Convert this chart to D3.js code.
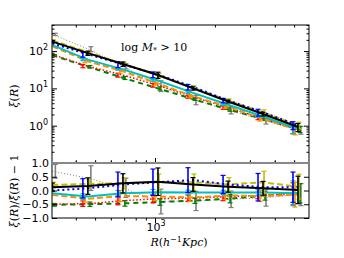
<!DOCTYPE html>
<html>
<head>
<meta charset="utf-8">
<script src="https://cdn.jsdelivr.net/npm/d3@7"></script>
<style>
  body { margin: 0; background: #fff; }
  .tick text { font-family: "DejaVu Sans", sans-serif; font-size: 11px; fill: #000; }
  .math { font-family: "DejaVu Serif", "Liberation Serif", serif; fill: #000; }
</style>
</head>
<body>
<div id="chart"></div>
<script>
// radial bins (h^-1 Kpc)
var R = [305, 460, 690, 1035, 1552, 2329, 3490, 5230];
// mean correlation function over the samples
var meanXi = [160, 76, 36, 17.3, 8.2, 3.9, 1.9, 0.9];

// xi(R) per sample
var xiBlack  = [179, 88, 45, 22.8, 10.0, 4.45, 2.05, 0.92];
var xiBlue   = [160, 82, 44, 23.5, 10.9, 4.76, 2.28, 1.03];
var xiYellow = [192, 94, 45, 22.5, 10.5, 4.76, 2.28, 1.03];
var xiCyan   = [144, 59, 32.4, 16.3, 7.6, 3.63, 1.77, 0.81];
var xiOrange = [134, 53, 28.8, 13.5, 6.15, 3.2, 1.52, 0.77];
var xiRed    = [80, 39.5, 22.7, 12.1, 5.9, 3.04, 1.56, 0.79];
var xiGreen  = [77, 38, 19.1, 10.0, 5.17, 2.73, 1.52, 0.81];
var xiGray   = [280, 114, 39.6, 12.1, 5.08, 2.65, 1.39, 0.77];

// xi / mean - 1 per sample
var rBlack  = [0.12, 0.16, 0.26, 0.32, 0.22, 0.14, 0.08, 0.02];
var rBlue   = [0.00, 0.08, 0.22, 0.30, 0.38, 0.22, 0.12, 0.12];
var rYellow = [0.20, 0.24, 0.26, 0.30, 0.30, 0.22, 0.30, 0.14];
var rCyan   = [-0.10, -0.22, -0.10, -0.06, -0.07, -0.07, -0.07, -0.10];
var rOrange = [-0.16, -0.30, -0.20, -0.22, -0.25, -0.18, -0.20, -0.15];
var rRed    = [-0.50, -0.48, -0.37, -0.30, -0.28, -0.22, -0.18, -0.12];
var rGreen  = [-0.52, -0.50, -0.47, -0.42, -0.37, -0.30, -0.20, -0.10];
var rGray   = [0.70, 0.45, 0.10, -0.40, -0.38, -0.32, -0.27, -0.15];

// 1-sigma errors on the ratio
var eBlack  = [0.15, 0.30, 0.35, 0.50, 0.25, 0.20, 0.25, 0.50];
var eBlue   = [0.12, 0.35, 0.45, 0.48, 0.45, 0.33, 0.50, 0.55];
var eYellow = [0.10, 0.15, 0.20, 0.30, 0.30, 0.25, 0.40, 0.45];
var eCyan   = [0.05, 0.10, 0.10, 0.10, 0.08, 0.08, 0.10, 0.45];
var eOrange = [0.05, 0.12, 0.20, 0.15, 0.15, 0.15, 0.20, 0.45];
var eRed    = [0.10, 0.10, 0.15, 0.15, 0.12, 0.15, 0.12, 0.40];
var eGreen  = [0.05, 0.08, 0.10, 0.12, 0.10, 0.15, 0.15, 0.35];
var eGray   = [0.25, 0.45, 0.35, 0.45, 0.35, 0.30, 0.30, 0.40];

var xTicksMinor = [400, 500, 600, 700, 800, 900, 2000, 3000, 4000, 5000];
var yTicksMain = [1, 10, 100];
var ratioTicks = [-1, -0.5, 0, 0.5, 1];
var ratioLabels = ["\u22121.0", "\u22120.5", "0.0", "0.5", "1.0"];

var series = [
  {xi: xiGray,   r: rGray,   e: eGray,   color: "#808080", w: 1,   dash: "1,2",  dx: 3},
  {xi: xiGreen,  r: rGreen,  e: eGreen,  color: "#008000", w: 2,   dash: "5,4",  dx: 2},
  {xi: xiRed,    r: rRed,    e: eRed,    color: "#ff0000", w: 1.5, dash: "1.5,2", dx: -5},
  {xi: xiOrange, r: rOrange, e: eOrange, color: "#ff8c00", w: 2,   dash: "6,3",  dx: -3},
  {xi: xiCyan,   r: rCyan,   e: eCyan,   color: "#00bfbf", w: 2,   dash: null,   dx: -5},
  {xi: xiYellow, r: rYellow, e: eYellow, color: "#bfbf00", w: 2,   dash: "6,3",  dx: 1},
  {xi: xiBlue,   r: rBlue,   e: eBlue,   color: "#0000ff", w: 2,   dash: "2,3",  dx: -5},
  {xi: xiBlack,  r: rBlack,  e: eBlack,  color: "#000000", w: 2,   dash: null,   dx: 0}
];

var svg = d3.select("#chart").append("svg")
  .attr("width", 344).attr("height", 258);

var pane = {left: 52, right: 309, top: 25, mid: 163, bottom: 218};
var mainErrScale = 0.5;

var x = d3.scaleLog().domain([303.7, 5941]).range([pane.left, pane.right]);
var y = d3.scaleLog().domain([0.1, 500]).range([pane.mid, pane.top]);
var yr = d3.scaleLinear().domain([-1, 1]).range([pane.bottom, pane.mid]);

var defs = svg.append("defs");
defs.append("clipPath").attr("id", "clipMain").append("rect")
  .attr("x", pane.left).attr("y", pane.top)
  .attr("width", pane.right - pane.left).attr("height", pane.mid - pane.top);
defs.append("clipPath").attr("id", "clipLow").append("rect")
  .attr("x", pane.left).attr("y", pane.mid)
  .attr("width", pane.right - pane.left).attr("height", pane.bottom - pane.mid);

var gMain = svg.append("g").attr("clip-path", "url(#clipMain)");
var gLow = svg.append("g").attr("clip-path", "url(#clipLow)");

var capW = 2.5;

series.forEach(function(s) {
  var lineMain = d3.line().x((d, i) => x(R[i])).y(d => y(d));
  var lineLow = d3.line().x((d, i) => x(R[i])).y(d => yr(d));

  [[gMain, s.xi, lineMain], [gLow, s.r, lineLow]].forEach(function(p) {
    p[0].append("path")
      .datum(p[1])
      .attr("d", p[2])
      .attr("fill", "none")
      .attr("stroke", s.color)
      .attr("stroke-width", s.w)
      .attr("stroke-dasharray", s.dash);
  });

  // error bars
  R.forEach(function(rv, i) {
    var cx = x(rv) + s.dx;
    var errXi = meanXi[i] * s.e[i] * mainErrScale;
    var mainLo = Math.max(s.xi[i] - errXi, 0.05), mainHi = s.xi[i] + errXi;
    var bars = [
      [gMain, y(mainLo), y(mainHi)],
      [gLow, yr(s.r[i] - s.e[i]), yr(s.r[i] + s.e[i])]
    ];
    bars.forEach(function(b) {
      var g = b[0].append("g").attr("stroke", s.color).attr("stroke-width", 1.6);
      g.append("line").attr("x1", cx).attr("x2", cx).attr("y1", b[1]).attr("y2", b[2]);
      g.append("line").attr("x1", cx - capW).attr("x2", cx + capW).attr("y1", b[1]).attr("y2", b[1]).attr("stroke-width", 1.2);
      g.append("line").attr("x1", cx - capW).attr("x2", cx + capW).attr("y1", b[2]).attr("y2", b[2]).attr("stroke-width", 1.2);
    });
  });
});

// axes: ticks point inward
function noLabel() { return ""; }
function addAxis(axis, tx, ty) {
  var g = svg.append("g").attr("transform", "translate(" + tx + "," + ty + ")").call(axis);
  g.select(".domain").remove();
  g.selectAll("line").attr("stroke", "#000").attr("stroke-width", 1);
  return g;
}

var yMinor = [];
[0.1, 1, 10, 100].forEach(function(dec) {
  for (var k = 2; k <= 9; k++) if (dec * k <= 500) yMinor.push(dec * k);
});

// main panel
addAxis(d3.axisLeft(y).tickValues(yTicksMain).tickSize(-5).tickFormat(noLabel), pane.left, 0);
addAxis(d3.axisLeft(y).tickValues(yMinor).tickSize(-2.5).tickFormat(noLabel), pane.left, 0);
addAxis(d3.axisRight(y).tickValues(yTicksMain).tickSize(-5).tickFormat(noLabel), pane.right, 0);
addAxis(d3.axisRight(y).tickValues(yMinor).tickSize(-2.5).tickFormat(noLabel), pane.right, 0);
addAxis(d3.axisTop(x).tickValues([1000]).tickSize(-5).tickFormat(noLabel), 0, pane.top);
addAxis(d3.axisTop(x).tickValues(xTicksMinor).tickSize(-2.5).tickFormat(noLabel), 0, pane.top);
addAxis(d3.axisBottom(x).tickValues([1000]).tickSize(-5).tickFormat(noLabel), 0, pane.mid);
addAxis(d3.axisBottom(x).tickValues(xTicksMinor).tickSize(-2.5).tickFormat(noLabel), 0, pane.mid);

// lower panel
addAxis(d3.axisLeft(yr).tickValues(ratioTicks).tickSize(-5).tickPadding(3)
  .tickFormat((d, i) => ratioLabels[i]), pane.left, 0);
addAxis(d3.axisRight(yr).tickValues(ratioTicks).tickSize(-5).tickFormat(noLabel), pane.right, 0);
addAxis(d3.axisTop(x).tickValues([1000]).tickSize(-5).tickFormat(noLabel), 0, pane.bottom);
addAxis(d3.axisTop(x).tickValues(xTicksMinor).tickSize(-2.5).tickFormat(noLabel), 0, pane.bottom);
addAxis(d3.axisTop(x).tickValues([1000]).tickSize(5).tickFormat(noLabel), 0, pane.mid);
addAxis(d3.axisTop(x).tickValues(xTicksMinor).tickSize(2.5).tickFormat(noLabel), 0, pane.mid);

// frame
svg.append("rect").attr("x", pane.left).attr("y", pane.top)
  .attr("width", pane.right - pane.left).attr("height", pane.bottom - pane.top)
  .attr("fill", "none").attr("stroke", "#000").attr("stroke-width", 1);
svg.append("line").attr("x1", pane.left).attr("x2", pane.right).attr("y1", pane.mid).attr("y2", pane.mid)
  .attr("stroke", "#888").attr("stroke-width", 2);

// power-of-ten labels
function powLabel(px, py, exp, anchor) {
  var t = svg.append("text").attr("x", px).attr("y", py)
    .attr("text-anchor", anchor)
    .style("font-family", "DejaVu Sans, sans-serif").style("font-size", "11px");
  t.append("tspan").text("10");
  t.append("tspan").attr("dy", -5).style("font-size", "8px").text(exp);
}
yTicksMain.forEach(function(v) {
  powLabel(pane.left - 4, y(v) + 4, String(Math.round(Math.log10(v))), "end");
});
powLabel(x(1000) + 1, pane.bottom + 13, "3", "middle");

// annotation
var ann = svg.append("text").attr("class", "math").attr("x", 121).attr("y", 51).style("font-size", "11px");
ann.append("tspan").text("log ");
ann.append("tspan").style("font-style", "italic").text("M");
ann.append("tspan").attr("dy", 2).style("font-size", "8px").text("*");
ann.append("tspan").attr("dy", -2).text(" > 10");

// x label
var xl = svg.append("text").attr("class", "math").attr("x", 179).attr("y", 246)
  .attr("text-anchor", "middle").style("font-size", "11px");
xl.append("tspan").style("font-style", "italic").text("R");
xl.append("tspan").text("(");
xl.append("tspan").style("font-style", "italic").text("h");
xl.append("tspan").attr("dy", -4).style("font-size", "8px").text("\u22121");
xl.append("tspan").attr("dy", 4).style("font-style", "italic").text("Kpc");
xl.append("tspan").text(")");

// y labels
var yl = svg.append("text").attr("class", "math")
  .attr("transform", "translate(18,96) rotate(-90)")
  .attr("text-anchor", "middle").style("font-size", "11px");
yl.append("tspan").style("font-style", "italic").text("\u03be");
yl.append("tspan").text("(");
yl.append("tspan").style("font-style", "italic").text("R");
yl.append("tspan").text(")");

var yl2 = svg.append("text").attr("class", "math")
  .attr("transform", "translate(18,191) rotate(-90)")
  .attr("text-anchor", "middle").style("font-size", "11px");
yl2.append("tspan").style("font-style", "italic").text("\u03be");
yl2.append("tspan").text("(");
yl2.append("tspan").style("font-style", "italic").text("R");
yl2.append("tspan").text(")/");
yl2.append("tspan").style("font-style", "italic").text("\u03be\u0304");
yl2.append("tspan").text("(");
yl2.append("tspan").style("font-style", "italic").text("R");
yl2.append("tspan").text(") \u2212 1");
</script>
</body>
</html>
